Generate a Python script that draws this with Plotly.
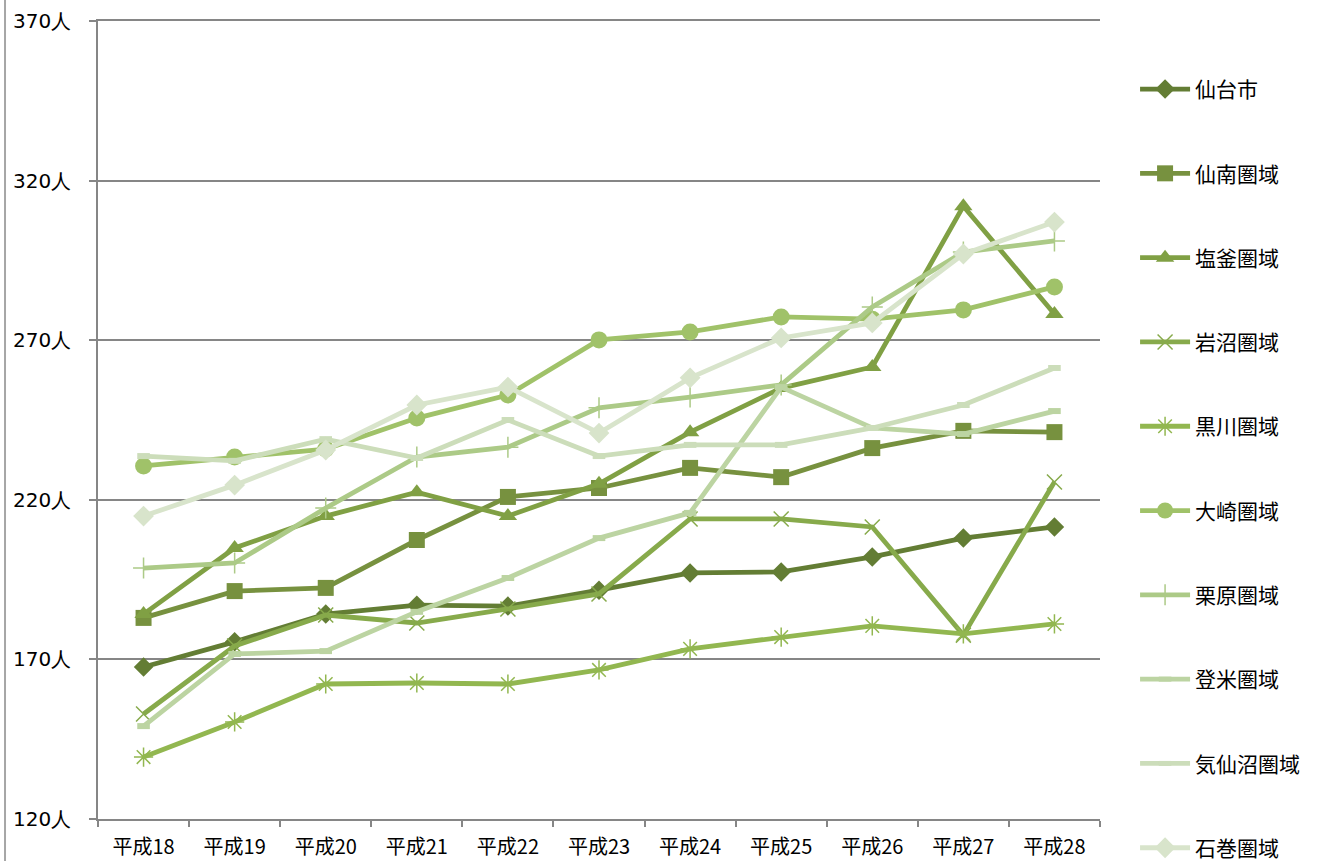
import plotly.graph_objects as go

categories = ["平成18", "平成19", "平成20", "平成21", "平成22", "平成23",
              "平成24", "平成25", "平成26", "平成27", "平成28"]

sendai_city = [167.6, 175.5, 184.2, 187.0, 186.7, 191.7, 197.1, 197.4, 202.1, 208.0, 211.5]
sennan = [183.0, 191.4, 192.4, 207.4, 220.9, 223.7, 230.0, 227.1, 236.2, 241.6, 241.2]
shiogama = [184.2, 204.9, 214.9, 222.4, 214.9, 225.0, 241.2, 255.0, 261.6, 312.0, 278.2]
iwanuma = [152.9, 174.2, 183.9, 181.4, 185.8, 190.5, 214.0, 214.0, 211.5, 177.6, 225.6]
kurokawa = [139.4, 150.4, 162.3, 162.6, 162.3, 166.7, 173.3, 177.0, 180.5, 178.0, 181.1]
osaki = [230.6, 233.4, 235.9, 245.6, 252.8, 270.1, 272.6, 277.3, 276.6, 279.5, 286.7]
kurihara = [198.6, 200.2, 217.4, 233.4, 236.5, 248.8, 252.2, 256.0, 280.4, 297.6, 301.1]
tome = [149.1, 171.7, 172.6, 184.9, 195.5, 208.0, 215.9, 255.3, 242.5, 240.6, 247.8]
kesennuma = [233.7, 232.2, 239.0, 233.1, 245.0, 233.7, 237.2, 237.2, 242.5, 249.7, 261.3]
ishinomaki = [214.9, 224.6, 235.6, 249.7, 255.3, 240.9, 258.2, 270.7, 275.4, 297.0, 307.0]

series_names = ["仙台市", "仙南圏域", "塩釜圏域", "岩沼圏域", "黒川圏域",
                "大崎圏域", "栗原圏域", "登米圏域", "気仙沼圏域", "石巻圏域"]
series_values = [sendai_city, sennan, shiogama, iwanuma, kurokawa,
                 osaki, kurihara, tome, kesennuma, ishinomaki]

y_ticks = [120, 170, 220, 270, 320, 370]
y_tick_text = [f"{v}人" for v in y_ticks]

styles = [
    dict(color="#637d34", symbol="diamond", size=15, mlw=0),
    dict(color="#77913f", symbol="square", size=16, mlw=0),
    dict(color="#80a044", symbol="triangle-up", size=16, mlw=0),
    dict(color="#87aa4b", symbol="x-thin-open", size=15, mlw=1.5),
    dict(color="#92b750", symbol="asterisk-open", size=16, mlw=1.5),
    dict(color="#a0c269", symbol="circle", size=17, mlw=0),
    dict(color="#acca87", symbol="cross-thin-open", size=15, mlw=1.5),
    dict(color="#bcd4a2", symbol="line-ew-open", size=9, mlw=6),
    dict(color="#ccddba", symbol="line-ew-open", size=9, mlw=6),
    dict(color="#d8e4cb", symbol="diamond", size=16, mlw=0),
]

fig = go.Figure()
for i, (name, vals, st) in enumerate(zip(series_names, series_values, styles)):
    fig.add_trace(go.Scatter(
        x=categories, y=vals, name=name, mode="lines+markers",
        legendgroup=f"g{i}",
        line=dict(color=st["color"], width=4.8),
        marker=dict(symbol=st["symbol"], size=st["size"], color=st["color"],
                    line=dict(color=st["color"], width=st["mlw"])),
    ))

fig.update_layout(
    width=1328, height=861,
    margin=dict(l=98, r=228, t=21, b=42, autoexpand=False),
    paper_bgcolor="white", plot_bgcolor="white",
    font=dict(family="Noto Sans CJK JP", color="black"),
    showlegend=True,
    legend=dict(
        x=1.035, xanchor="left", y=0.94, yanchor="top",
        font=dict(family="Noto Sans CJK JP", size=21, color="black"),
        tracegroupgap=54, itemwidth=50, maxheight=900,
        bgcolor="rgba(0,0,0,0)",
    ),
    shapes=[dict(type="line", xref="paper", yref="paper",
                 x0=-0.0928, x1=-0.0928, y0=-0.06, y1=1.03,
                 line=dict(color="#a6a6a6", width=2))],
)

fig.update_xaxes(
    type="category", tickson="boundaries", range=[-0.5, 10.5],
    showline=True, linecolor="#868686", linewidth=1.5, mirror=True,
    ticks="outside", ticklen=6, tickcolor="#868686", tickwidth=1.5,
    showgrid=False,
    tickfont=dict(family="Noto Sans CJK JP", size=20, color="black"),
    ticklabelstandoff=9,
)
fig.update_yaxes(
    range=[120, 370], tickmode="array", tickvals=y_ticks, ticktext=y_tick_text,
    showline=True, linecolor="#868686", linewidth=1.5,
    ticks="outside", ticklen=7, tickcolor="#868686", tickwidth=1.5,
    showgrid=True, gridcolor="#868686", gridwidth=1.5,
    zeroline=False,
    tickfont=dict(family="DejaVu Sans", size=20, color="black"),
    ticklabelstandoff=14,
)

fig.write_html("out.html", config={"displayModeBar": False},
               post_script="document.body.style.margin='0';")
